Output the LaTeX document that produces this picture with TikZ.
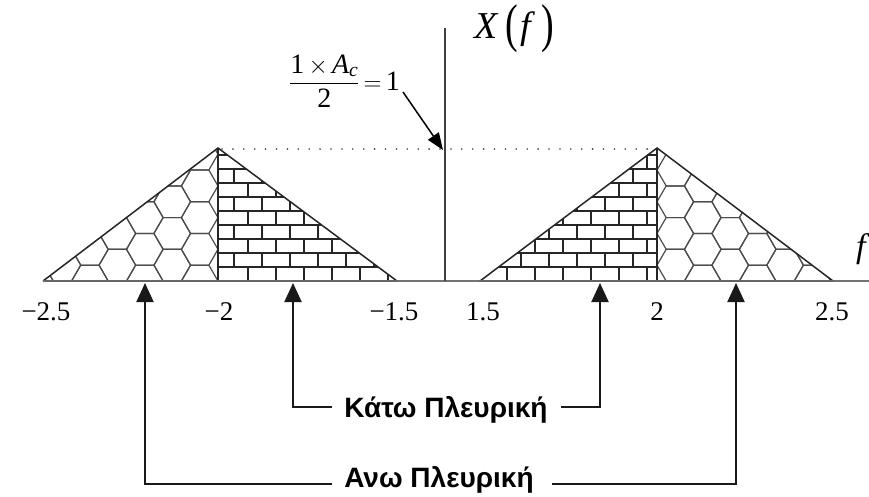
\documentclass[tikz,border=0pt]{standalone}
\usepackage{fontspec}
\usepackage{amsmath}
\usepackage{graphicx}
\setmainfont{Liberation Serif}
\newfontfamily\grfont{Liberation Sans}
\usetikzlibrary{arrows.meta}
\begin{document}
\begin{tikzpicture}[x=1pt,y=-1pt,
  tick/.style={font=\fontsize{27}{30}\selectfont, anchor=base, inner sep=0pt},
  outline/.style={line width=1.5pt, draw=black!85},
  hexline/.style={line width=1.2pt, draw=black!70},
  brickline/.style={line width=1.1pt, draw=black!85},
  callout/.style={line width=2pt, draw=black!90, -{Triangle[width=17pt,length=19pt]}},
  lbl/.style={font=\grfont\bfseries\fontsize{28}{32}\selectfont, inner sep=0pt, text height=20pt, text depth=0pt}
]
\useasboundingbox (0,0) rectangle (869,496);

% ---- hexagon fill, left triangle
\begin{scope}
\clip (43,281) -- (218,148) -- (218,281) -- cycle;
\foreach \k in {0,...,7}{
  \pgfmathsetmacro\cx{199.7-27.45*\k}
  \pgfmathsetmacro\off{15.85*mod(\k,2)}
  \foreach \j in {0,...,5}{
    \pgfmathsetmacro\cy{281-\off-31.7*\j}
    \draw[hexline] ({\cx-18.3},{\cy}) -- ({\cx-9.15},{\cy-15.85}) -- ({\cx+9.15},{\cy-15.85})
      -- ({\cx+18.3},{\cy}) -- ({\cx+9.15},{\cy+15.85}) -- ({\cx-9.15},{\cy+15.85}) -- cycle;
  }
}
\end{scope}

% ---- hexagon fill, right triangle
\begin{scope}
\clip (657,281) -- (657,148) -- (833,281) -- cycle;
\foreach \k in {0,...,7}{
  \pgfmathsetmacro\cx{675.3+27.45*\k}
  \pgfmathsetmacro\off{15.85*(1-mod(\k,2))}
  \foreach \j in {0,...,5}{
    \pgfmathsetmacro\cy{281-\off-31.7*\j}
    \draw[hexline] ({\cx-18.3},{\cy}) -- ({\cx-9.15},{\cy-15.85}) -- ({\cx+9.15},{\cy-15.85})
      -- ({\cx+18.3},{\cy}) -- ({\cx+9.15},{\cy+15.85}) -- ({\cx-9.15},{\cy+15.85}) -- cycle;
  }
}
\end{scope}

% ---- brick fill, left triangle
\begin{scope}
\clip (218,148) -- (397,281) -- (218,281) -- cycle;
\foreach \r in {1,...,9}{
  \draw[brickline] (218,{281-14*\r}) -- (400,{281-14*\r});
}
\foreach \r in {0,...,9}{
  \pgfmathsetmacro\xo{234+14*(1-mod(\r,2))}
  \foreach \m in {0,...,6}{
    \draw[brickline] ({\xo+28*\m},{281-14*\r}) -- ({\xo+28*\m},{267-14*\r});
  }
}
\end{scope}

% ---- brick fill, right triangle
\begin{scope}
\clip (480,281) -- (657,148) -- (657,281) -- cycle;
\foreach \r in {1,...,9}{
  \draw[brickline] (477,{281-14*\r}) -- (657,{281-14*\r});
}
\foreach \r in {0,...,9}{
  \pgfmathsetmacro\xo{633+14*(1-mod(\r,2))}
  \foreach \m in {0,...,6}{
    \draw[brickline] ({\xo-28*\m},{281-14*\r}) -- ({\xo-28*\m},{267-14*\r});
  }
}
\end{scope}

% ---- axes
\draw[line width=1.2pt, black!55] (43,281) -- (869,281);
\draw[line width=1.3pt, black!75] (445,28) -- (445,281);

% ---- triangle outlines
\draw[outline] (43,281) -- (218,148) -- (397,281);
\draw[outline, line width=2pt] (218,148) -- (218,281);
\draw[outline] (480,281) -- (657,148) -- (833,281);
\draw[outline, line width=2pt] (657,148) -- (657,281);
\draw[line width=2pt, black!60] (43,281) -- (397,281);
\draw[line width=2pt, black!60] (480,281) -- (833,281);

% ---- dotted level line
\draw[line width=1.8pt, black!75, dash pattern=on 0pt off 10.9pt, line cap=round] (222,149) -- (655,149);

% ---- tick labels
\node[tick] (t1) at (46,320) {−2.5};
\node[tick] (t2) at (219,320) {−2};
\node[tick] (t3) at (394,320) {−1.5};
\node[tick] (t4) at (483,320) {1.5};
\node[tick] (t5) at (657,320) {2};
\node[tick] (t6) at (832,320) {2.5};

% ---- axis labels
\node[anchor=base west, inner sep=0pt] (xf) at (474,38)
  {\fontsize{38}{42}\selectfont\textit{X}\kern7pt\raisebox{-3pt}{\scalebox{1}[1.4]{(}}\kern2pt\textit{f}\kern6pt\raisebox{-3pt}{\scalebox{1}[1.4]{)}}};
\node[anchor=base west, inner sep=0pt] (fl) at (856,257) {\fontsize{34}{36}\selectfont\textit{f}};

% ---- formula and its arrow
\node[anchor=base west, inner sep=0pt] (frm) at (289,90)
  {\fontsize{28}{32}\selectfont $\dfrac{\text{1}\,{\times}\,\textit{A}_{\textit{c}}}{\text{2}}\,{=}\,\text{1}$};
\coordinate (dstart) at (403,92);
\coordinate (pk) at (443,150);
\draw[line width=1.5pt, -{Triangle[width=13pt,length=17pt]}] (dstart) -- (pk);

% ---- sideband callouts
\coordinate (a1) at (145,283);
\coordinate (a2) at (293,283);
\coordinate (a3) at (600,283);
\coordinate (a4) at (736,283);
\node[lbl] (kato) at (446,407) {Κάτω Πλευρική};
\node[lbl] (ano) at (439,477) {Ανω Πλευρική};
\draw[callout] ([xshift=-12pt]kato.west) -| (a2);
\draw[callout] ([xshift=13pt]kato.east) -| (a3);
\draw[callout] ([shift={(-12pt,-7pt)}]ano.west) -| (a1);
\draw[callout] ([shift={(18pt,-7pt)}]ano.east) -| (a4);
\end{tikzpicture}
\end{document}
